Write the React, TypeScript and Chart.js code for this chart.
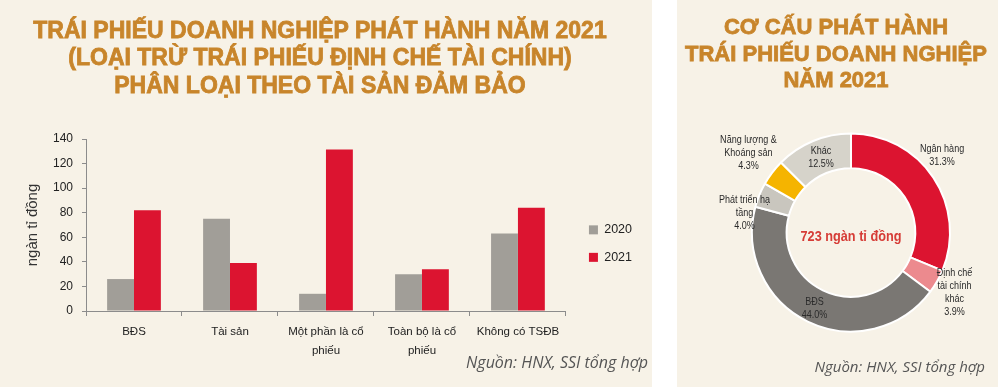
import React, { useEffect, useRef } from 'react';
import { Chart, registerables } from 'chart.js';

Chart.register(...registerables);

// ---------------- DATA ----------------
const BAR_CATEGORIES: string[][] = [
  ['BĐS'],
  ['Tài sản'],
  ['Một phần là cổ', 'phiếu'],
  ['Toàn bộ là cổ', 'phiếu'],
  ['Không có TSĐB'],
];
const SERIES_NAMES = ['2020', '2021'];
const SERIES_2020 = [26, 75, 14, 30, 63];
const SERIES_2021 = [82, 39, 131.5, 34, 84];
const Y_MIN = 0;
const Y_MAX = 140;
const Y_STEP = 20;
const Y_TITLE = 'ngàn tỉ đồng';

const DONUT_LABELS: string[][] = [
  ['Ngân hàng'],
  ['Định chế', 'tài chính', 'khác'],
  ['BĐS'],
  ['Phát triển hạ', 'tầng'],
  ['Năng lượng &', 'Khoáng sản'],
  ['Khác'],
];
const DONUT_VALUES = [31.3, 3.9, 44.0, 4.0, 4.3, 12.5];
const DONUT_CENTER_TEXT = '723 ngàn tỉ đồng';

const LEFT_TITLE = [
  'TRÁI PHIẾU DOANH NGHIỆP PHÁT HÀNH NĂM 2021',
  '(LOẠI TRỪ TRÁI PHIẾU ĐỊNH CHẾ TÀI CHÍNH)',
  'PHÂN LOẠI THEO TÀI SẢN ĐẢM BẢO',
];
const RIGHT_TITLE = ['CƠ CẤU PHÁT HÀNH', 'TRÁI PHIẾU DOANH NGHIỆP', 'NĂM 2021'];
const SOURCE_TEXT = 'Nguồn: HNX, SSI tổng hợp';

// ---------------- STYLE / LAYOUT ----------------
const BG = '#f7f2e7';
const TITLE_COLOR = '#c8852b';
const GRAY_BAR = '#a19e98';
const RED = '#dc1430';
const AXIS = '#8c8c8c';
const DONUT_COLORS = ['#dc1430', '#ec8a8e', '#7a7773', '#c9c6be', '#f5b400', '#d6d3ca'];
// label placement relative to each arc (radius factor of outer radius, angle shift in degrees)
const LABEL_RADIUS = [1.204, 1.208, 0.847, 1.094, 1.309, 0.816];
const LABEL_ANGLE_SHIFT = [-6.5, 0.4, -0.1, -11.8, 0.4, 0.7];
const CONDENSE = 0.82; // horizontal squeeze to mimic a narrow face

const REG = '"Liberation Sans", Arial, sans-serif';

const donutLabelPlugin = {
  id: 'donutLabels',
  afterDatasetsDraw(chart: any) {
    const meta = chart.getDatasetMeta(0);
    const ctx = chart.ctx as CanvasRenderingContext2D;
    ctx.save();
    ctx.textAlign = 'center';
    ctx.textBaseline = 'middle';
    const drawText = (t: string, x: number, y: number) => {
      ctx.save();
      ctx.translate(x, y);
      ctx.scale(CONDENSE, 1);
      ctx.fillText(t, 0, 0);
      ctx.restore();
    };
    meta.data.forEach((arc: any, i: number) => {
      const p = arc.getProps(['x', 'y', 'startAngle', 'endAngle', 'outerRadius'], true);
      const mid = (p.startAngle + p.endAngle) / 2 + (LABEL_ANGLE_SHIFT[i] * Math.PI) / 180;
      const r = p.outerRadius * LABEL_RADIUS[i];
      const cx = p.x + Math.cos(mid) * r;
      const cy = p.y + Math.sin(mid) * r;
      const lines = [...DONUT_LABELS[i], DONUT_VALUES[i].toFixed(1) + '%'];
      const lh = 13;
      ctx.font = `11px ${REG}`;
      ctx.fillStyle = '#2b2b2b';
      lines.forEach((t, k) => drawText(t, cx, cy + (k - (lines.length - 1) / 2) * lh));
    });
    const c0 = meta.data[0];
    if (c0) {
      ctx.font = `bold 15.5px ${REG}`;
      ctx.fillStyle = '#d63c36';
      drawText(DONUT_CENTER_TEXT, c0.x, c0.y + 4.5);
    }
    ctx.restore();
  },
};

const titleStyle = (size: number, lh: number): React.CSSProperties => ({
  position: 'absolute',
  left: 0,
  right: 0,
  textAlign: 'center',
  fontFamily: REG,
  fontWeight: 'bold',
  fontSize: size,
  lineHeight: `${lh}px`,
  color: TITLE_COLOR,
  whiteSpace: 'nowrap',
  WebkitTextStroke: `0.8px ${TITLE_COLOR}`,
});

const sourceStyle: React.CSSProperties = {
  position: 'absolute',
  fontFamily: '"Open Sans", sans-serif',
  fontStyle: 'italic',
  color: '#555',
  whiteSpace: 'nowrap',
  lineHeight: '20px',
};

export default function App() {
  const barRef = useRef<HTMLCanvasElement | null>(null);
  const donutRef = useRef<HTMLCanvasElement | null>(null);

  useEffect(() => {
    Chart.defaults.font.family = REG;
    Chart.defaults.color = '#222';
    const bar = new Chart(barRef.current as HTMLCanvasElement, {
      type: 'bar',
      data: {
        labels: BAR_CATEGORIES as any,
        datasets: [
          { label: SERIES_NAMES[0], data: SERIES_2020, backgroundColor: GRAY_BAR, yAxisID: 'y', xAxisID: 'x' },
          { label: SERIES_NAMES[1], data: SERIES_2021, backgroundColor: RED, yAxisID: 'y', xAxisID: 'x' },
        ],
      },
      options: {
        animation: false,
        responsive: false,
        layout: { padding: { left: 20, top: 139, bottom: 26, right: 10 } },
        datasets: { bar: { categoryPercentage: 0.56, barPercentage: 1 } } as any,
        plugins: {
          legend: {
            position: 'right',
            align: 'center',
            fullSize: false,
            title: { display: true, text: ' ', font: { size: 1 }, padding: 18 } as any,
            labels: {
              boxWidth: 9,
              boxHeight: 9,
              padding: 15,
              color: '#222',
              font: { size: 12.5 },
            },
          },
          tooltip: { enabled: false },
        },
        scales: {
          x: {
            grid: { display: true, drawOnChartArea: false, drawTicks: true, tickLength: 5, color: AXIS, offset: true },
            border: { color: AXIS },
            ticks: {
              color: '#222',
              padding: 6,
              maxRotation: 0,
              autoSkip: false,
              font: { size: 11.5, lineHeight: 1.65 },
            },
            afterFit: (s: any) => {
              s.height = 50;
            },
          },
          y: {
            min: Y_MIN,
            max: Y_MAX,
            ticks: { stepSize: Y_STEP, padding: 9, color: '#222', font: { size: 12 } },
            grid: { drawOnChartArea: false, drawTicks: true, tickLength: 4, color: AXIS },
            border: { color: AXIS },
            title: {
              display: true,
              text: Y_TITLE,
              color: '#333',
              font: { size: 15 },
              padding: { top: 4, bottom: 4 },
            },
            afterFit: (s: any) => {
              s.width = 66;
            },
          },
          pad: {
            type: 'linear',
            position: 'right',
            display: true,
            grid: { display: false },
            ticks: { display: false },
            border: { display: false },
            afterFit: (s: any) => {
              s.width = 8;
            },
          },
        } as any,
      },
    });

    const donut = new Chart(donutRef.current as HTMLCanvasElement, {
      type: 'doughnut',
      data: {
        labels: DONUT_LABELS.map((l) => l.join(' ')),
        datasets: [
          {
            data: DONUT_VALUES,
            backgroundColor: DONUT_COLORS,
            borderColor: '#ffffff',
            borderWidth: 2,
          },
        ],
      },
      options: {
        animation: false,
        responsive: false,
        radius: 99,
        cutout: '65%',
        layout: { padding: { left: 27, right: 0, top: 78, bottom: 0 } },
        plugins: { legend: { display: false }, tooltip: { enabled: false } },
      } as any,
      plugins: [donutLabelPlugin],
    });

    return () => {
      bar.destroy();
      donut.destroy();
    };
  }, []);

  return (
    <div style={{ position: 'relative', width: 998, height: 387, background: '#fff', overflow: 'hidden' }}>
      <style>{'body{margin:0}'}</style>
      <div style={{ position: 'absolute', left: 0, top: 0, width: 652, height: 387, background: BG }}>
        <canvas ref={barRef} width={652} height={387} style={{ position: 'absolute', left: 0, top: 0, width: 652, height: 387 }} />
        <div style={{ ...titleStyle(23, 27.5), top: 16.6, width: 640 }}>
          {LEFT_TITLE.map((t) => (
            <div key={t}>{t}</div>
          ))}
        </div>
        <div style={{ ...sourceStyle, fontSize: 16, right: 4, top: 352 }}>{SOURCE_TEXT}</div>
      </div>
      <div style={{ position: 'absolute', left: 677, top: 0, width: 321, height: 387, background: BG }}>
        <canvas ref={donutRef} width={321} height={387} style={{ position: 'absolute', left: 0, top: 0, width: 321, height: 387 }} />
        <div style={{ ...titleStyle(22, 26.5), top: 14.2, width: 318 }}>
          {RIGHT_TITLE.map((t) => (
            <div key={t}>{t}</div>
          ))}
        </div>
        <div style={{ ...sourceStyle, fontSize: 15, right: 13, top: 356 }}>{SOURCE_TEXT}</div>
      </div>
    </div>
  );
}
